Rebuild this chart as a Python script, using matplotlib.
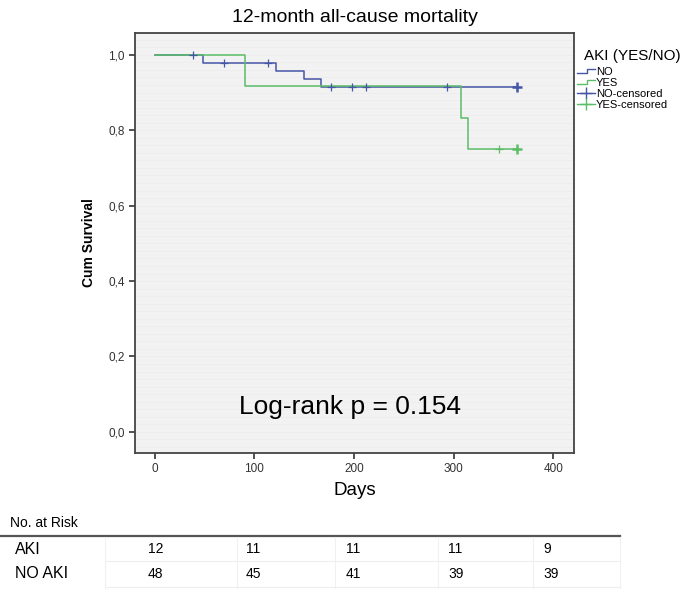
import matplotlib
matplotlib.use('Agg')
import matplotlib.pyplot as plt
from matplotlib.lines import Line2D
from matplotlib.legend_handler import HandlerLine2D
from matplotlib.ticker import FuncFormatter

plt.rcParams['font.family'] = ['Liberation Sans', 'DejaVu Sans']

# Kaplan-Meier step data (days, cumulative survival)
no_days = [0, 48, 122, 150, 167, 365]
no_surv = [1.0, 0.979, 0.958, 0.937, 0.914, 0.914]
yes_days = [0, 90, 307, 314, 365]
yes_surv = [1.0, 0.917, 0.833, 0.75, 0.75]

# censored observations
no_cens_days = [38, 69, 114, 177, 198, 212, 293]
no_cens_surv = [1.0, 0.979, 0.979, 0.914, 0.914, 0.914, 0.914]
no_cens_end = [364]
yes_cens_days = [346]
yes_cens_surv = [0.75]
yes_cens_end = [364]

# number at risk table
risk_groups = ['AKI', 'NO AKI']
risk_aki = [12, 11, 11, 11, 9]
risk_noaki = [48, 45, 41, 39, 39]

blue = '#4656a6'
green = '#5cbd68'


class StepHandler(HandlerLine2D):
    # legend symbol drawn as a small survival step
    def create_artists(self, legend, orig, xd, yd, w, h, fontsize, trans):
        xs = [-xd, -xd + w * 0.55, -xd + w * 0.55, -xd + w]
        ys = [h * 0.2, h * 0.2, h * 0.75, h * 0.75]
        ln = Line2D(xs, ys, color=orig.get_color(), lw=orig.get_linewidth())
        ln.set_transform(trans)
        return [ln]


fig = plt.figure(figsize=(6.86, 5.92), dpi=100)
ax = fig.add_axes([0.1968, 0.2348, 0.640, 0.7095])
ax.set_facecolor('#f2f2f2')
for yy in [i * 0.02 for i in range(-2, 53)]:
    ax.axhline(yy, color='#ececec', lw=0.5, zorder=0)

ax.step(yes_days, yes_surv, where='post', color=green, lw=1.1, zorder=3)
ax.step(no_days, no_surv, where='post', color=blue, lw=1.1, zorder=2)
ax.plot(no_cens_days, no_cens_surv, ls='none', marker='+', ms=6, mew=0.9, color=blue, zorder=4)
ax.plot(no_cens_end, [no_surv[-1]], ls='none', marker='+', ms=7, mew=1.8, color=blue, zorder=4)
ax.plot(yes_cens_days, yes_cens_surv, ls='none', marker='+', ms=6, mew=0.9, color=green, zorder=4)
ax.plot(yes_cens_end, [yes_surv[-1]], ls='none', marker='+', ms=7, mew=1.8, color=green, zorder=4)

ax.set_xlim(-20, 421)
ax.set_ylim(-0.056, 1.058)
ax.set_xticks([0, 100, 200, 300, 400])
ax.set_yticks([0, 0.2, 0.4, 0.6, 0.8, 1.0])
ax.yaxis.set_major_formatter(FuncFormatter(lambda v, p: f'{v:.1f}'.replace('.', ',')))
ax.tick_params(labelsize=8.5, colors='#333333', length=4, width=1.2)
for s in ax.spines.values():
    s.set_color('#444444')
    s.set_linewidth(1.3)

ax.set_xlabel('Days', fontsize=13.5, labelpad=5)
ax.set_ylabel('Cum Survival', fontsize=10, fontweight='bold', labelpad=9)
ax.set_title('12-month all-cause mortality', fontsize=14, pad=8)
ax.text(0.49, 0.11, 'Log-rank p = 0.154', transform=ax.transAxes,
        ha='center', va='center', fontsize=19)

# legend
h_no = Line2D([], [], color=blue, lw=1)
h_yes = Line2D([], [], color=green, lw=1)
handles = [
    h_no, h_yes,
    Line2D([], [], color=blue, lw=1, marker='+', ms=8),
    Line2D([], [], color=green, lw=1, marker='+', ms=8),
]
fig.legend(handles, ['NO', 'YES', 'NO-censored', 'YES-censored'],
           loc='upper left', bbox_to_anchor=(0.835, 0.895), frameon=False,
           fontsize=8, handlelength=1.6, handletextpad=0.1, labelspacing=0.1,
           borderaxespad=0, handler_map={h_no: StepHandler(), h_yes: StepHandler()})
fig.text(0.922, 0.905, 'AKI (YES/NO)', ha='center', va='center', fontsize=11)

# number at risk table
fig.text(0.015, 1 - 523 / 592, 'No. at Risk', fontsize=10, va='center')
fig.add_artist(Line2D([0, 620 / 686], [1 - 536 / 592] * 2, color='#555555', lw=1.6))
for yy in [561, 587]:
    fig.add_artist(Line2D([105 / 686, 620 / 686], [1 - yy / 592] * 2, color='#eeeeee', lw=0.8))
for xx in [105, 237, 335, 438, 533, 620]:
    fig.add_artist(Line2D([xx / 686] * 2, [1 - 537 / 592, 1 - 588 / 592], color='#f0f0f0', lw=0.8))
col_x = [148, 246, 346, 448, 543]
row_y = [549, 574]
for name, vals, yy in zip(risk_groups, [risk_aki, risk_noaki], row_y):
    fig.text(15 / 686, 1 - yy / 592, name, fontsize=11.5, va='center')
    for xx, v in zip(col_x, vals):
        fig.text(xx / 686, 1 - yy / 592, str(v), fontsize=10, va='center')

fig.savefig('out.png', dpi=100)
